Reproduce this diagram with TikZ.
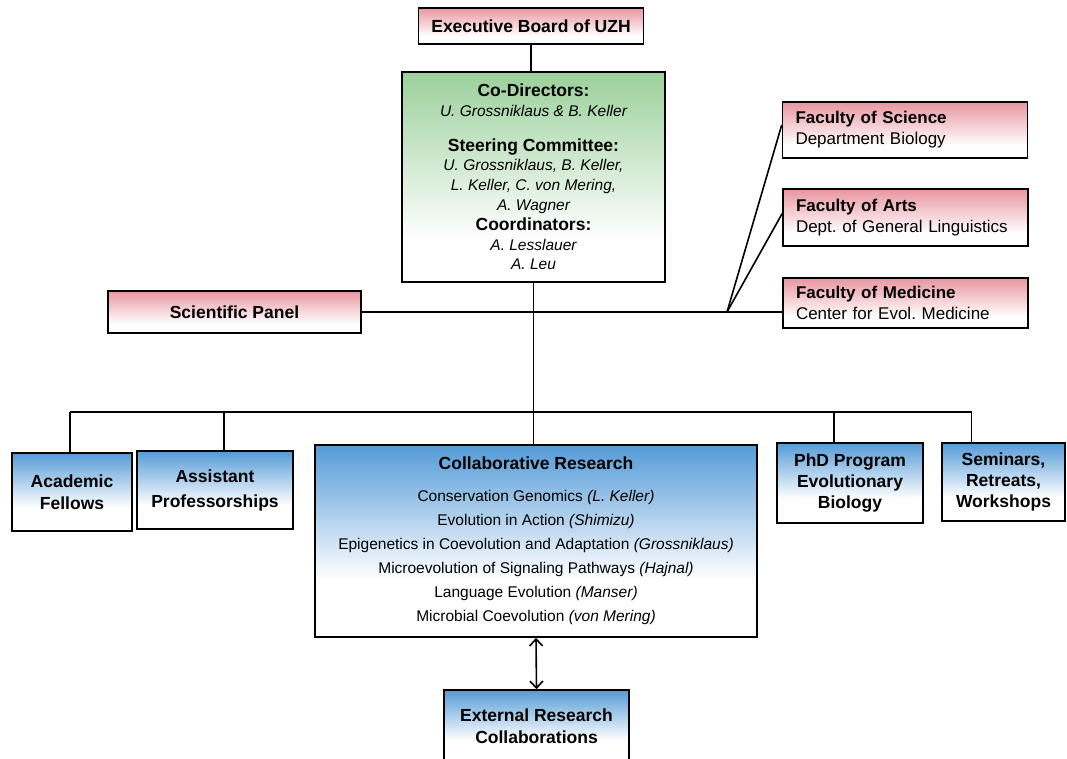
\documentclass[tikz,border=0pt]{standalone}
\usepackage{fontspec}
\setmainfont{Liberation Sans}
\usetikzlibrary{arrows.meta}
\frenchspacing
\definecolor{pinkc}{RGB}{232,150,160}
\definecolor{greenc}{RGB}{155,208,155}
\definecolor{bluec}{RGB}{85,155,215}
\pgfdeclareverticalshading{pinkfade}{100bp}{color(0bp)=(white); color(25bp)=(white); color(36bp)=(white); color(75bp)=(pinkc); color(100bp)=(pinkc)}
\pgfdeclareverticalshading{greenfade}{100bp}{color(0bp)=(white); color(25bp)=(white); color(35bp)=(white); color(75bp)=(greenc); color(100bp)=(greenc)}
\pgfdeclareverticalshading{bluefade}{100bp}{color(0bp)=(white); color(25bp)=(white); color(40bp)=(white); color(75bp)=(bluec); color(100bp)=(bluec)}
\newcommand\hdf{\fontsize{17.5}{21}\selectfont\bfseries}
\newcommand\rgf{\fontsize{17}{21}\selectfont}
\begin{document}
\frenchspacing
\begin{tikzpicture}[x=1pt,y=-1pt,
  box/.style={draw=black, line width=1.6pt, inner sep=0pt, align=center},
  pinkbox/.style={box, shading=pinkfade},
  greenbox/.style={box, shading=greenfade},
  bluebox/.style={box, shading=bluefade},
  facbox/.style={pinkbox, align=left, inner xsep=13pt, text width=219pt},
  link/.style={line width=1.6pt, draw=black},
  dbl/.style={link, {Straight Barb[length=7pt,width=13pt]}-{Straight Barb[length=7pt,width=13pt]}}]
\useasboundingbox (0,0) rectangle (1067,758);

\node[pinkbox, minimum width=225pt, minimum height=36pt, font=\hdf] (exec) at (531,26) {Executive Board of UZH};

\node[greenbox, minimum width=263pt, minimum height=210pt, font=\fontsize{15.5}{19.8}\selectfont\itshape] (codir) at (533.5,177)
  {{\fontsize{17.5}{19.8}\selectfont\bfseries\upshape Co-Directors:}\\
   U. Grossniklaus \& B. Keller\\[15pt]
   {\fontsize{17.5}{19.8}\selectfont\bfseries\upshape Steering Committee:}\\
   U. Grossniklaus, B. Keller,\\
   L. Keller, C. von Mering,\\
   A. Wagner\\
   {\fontsize{17.5}{19.8}\selectfont\bfseries\upshape Coordinators:}\\
   A. Lesslauer\\
   A. Leu};

\node[facbox, minimum height=56pt, font=\rgf] (sci) at (905,130) {\textbf{Faculty of Science}\\Department Biology};
\node[facbox, minimum height=57pt, font=\rgf] (arts) at (905.5,217.5) {\textbf{Faculty of Arts}\\Dept. of General Linguistics};
\node[facbox, minimum height=50pt, font=\rgf] (med) at (905.5,303) {\textbf{Faculty of Medicine}\\Center for Evol. Medicine};

\node[pinkbox, minimum width=253pt, minimum height=42pt, font=\hdf] (panel) at (234.5,312) {Scientific Panel};

\node[bluebox, minimum width=120pt, minimum height=78pt, font=\fontsize{17.5}{22}\selectfont\bfseries] (acad) at (72,492) {Academic\\Fellows};
\node[bluebox, minimum width=156pt, minimum height=78pt, font=\fontsize{17.5}{25}\selectfont\bfseries] (asst) at (215,490) {Assistant\\Professorships};
\node[bluebox, minimum width=442pt, minimum height=192pt, font=\fontsize{15.5}{24}\selectfont] (collab) at (536,541)
  {{\fontsize{17.5}{24}\selectfont\bfseries Collaborative Research}\\[8pt]
   Conservation Genomics \textit{(L. Keller)}\\
   Evolution in Action \textit{(Shimizu)}\\
   Epigenetics in Coevolution and Adaptation \textit{(Grossniklaus)}\\
   Microevolution of Signaling Pathways \textit{(Hajnal)}\\
   Language Evolution \textit{(Manser)}\\
   Microbial Coevolution \textit{(von Mering)}};
\node[bluebox, minimum width=146pt, minimum height=80pt, font=\fontsize{17.5}{21}\selectfont\bfseries] (phd) at (850,483) {PhD Program\\Evolutionary\\Biology};
\node[bluebox, minimum width=123pt, minimum height=78pt, font=\fontsize{17.5}{21}\selectfont\bfseries] (sem) at (1003.5,482) {Seminars,\\Retreats,\\Workshops};
\node[bluebox, minimum width=185pt, minimum height=72pt, font=\fontsize{17.5}{22}\selectfont\bfseries] (ext) at (536.5,726) {External Research\\Collaborations};

\coordinate (bus) at (533,412);
\coordinate (junc) at (727,312);

\draw[link] (exec.south) -- (exec.south |- codir.north);
\draw[link] (codir.south) -- (codir.south |- collab.north);
\draw[link] (panel.east) -- (panel.east -| med.west);
\draw[link] (junc) -- ([yshift=5pt]sci.west);
\draw[link] (junc) -- ([yshift=4pt]arts.west);
\draw[link] ([xshift=-2pt]acad.north |- bus) -- ([xshift=-32pt]sem.north |- bus);
\draw[link] ([xshift=-2pt]acad.north) -- ([xshift=-2pt]acad.north |- bus);
\draw[link] ([xshift=9pt]asst.north) -- ([xshift=9pt]asst.north |- bus);
\draw[link] ([xshift=-16pt]phd.north) -- ([xshift=-16pt]phd.north |- bus);
\draw[link] ([xshift=-32pt]sem.north) -- ([xshift=-32pt]sem.north |- bus);
\draw[dbl] (collab.south) -- (ext.north);
\end{tikzpicture}
\end{document}
